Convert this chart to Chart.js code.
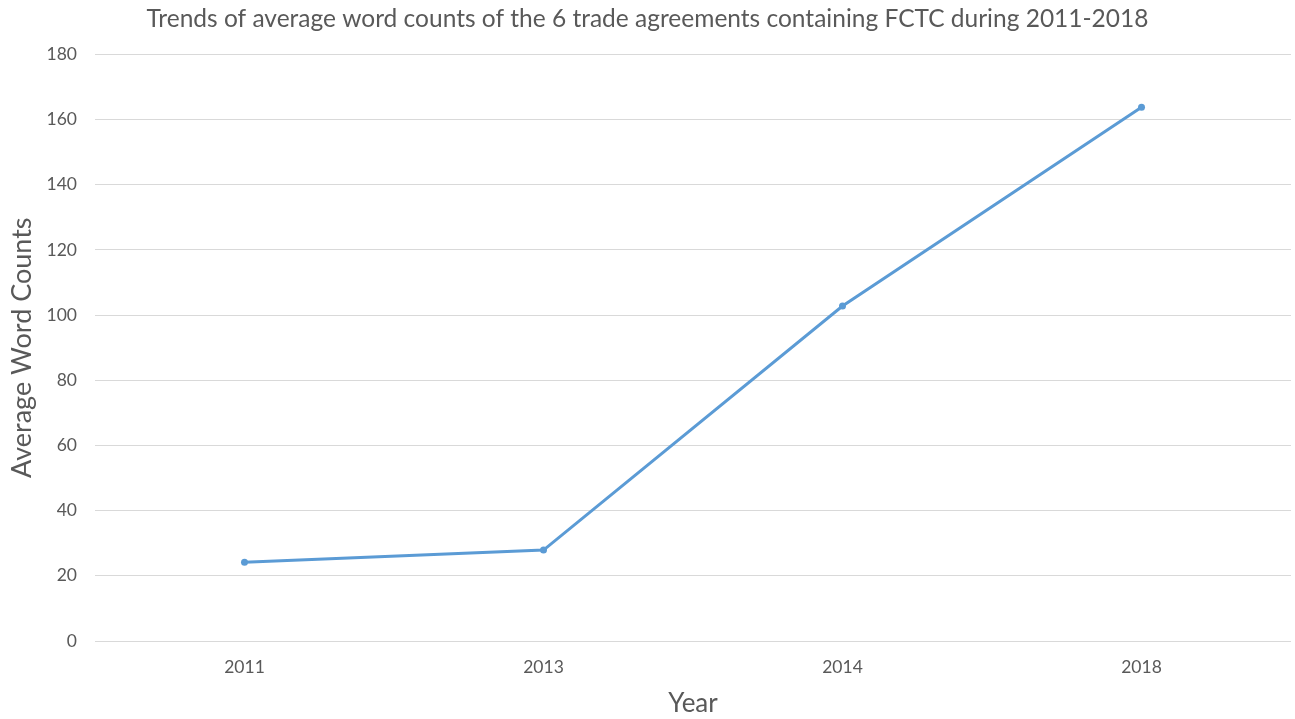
<!DOCTYPE html>
<html>
<head>
<meta charset="utf-8">
<script src="https://cdn.jsdelivr.net/npm/chart.js@4"></script>
<style>
  html, body { margin: 0; padding: 0; background: #fff; }
  #wrap { width: 1295px; height: 719px; }
</style>
</head>
<body>
<div id="wrap"><canvas id="chart" width="1295" height="719"></canvas></div>
<script>
// data
const years = ['2011', '2013', '2014', '2018'];
const avgWordCounts = [24.2, 27.9, 102.8, 163.8];
const titleText = 'Trends of average word counts of the 6 trade agreements containing FCTC during 2011-2018';

const textColor = '#595959';
const lineColor = '#5B9BD5';
const gridColor = '#D9D9D9';
const fontFamily = 'Lato, "Open Sans", sans-serif';

new Chart(document.getElementById('chart'), {
    type: 'line',
    data: {
        labels: years,
        datasets: [{
            label: 'Average Word Counts',
            data: avgWordCounts,
            borderColor: lineColor,
            backgroundColor: lineColor,
            borderWidth: 3,
            pointRadius: 3.5,
            pointBackgroundColor: lineColor,
            pointBorderWidth: 0,
            tension: 0,
            fill: false
        }]
    },
    options: {
        responsive: false,
        animation: false,
        layout: { padding: 0 },
        plugins: {
            legend: { display: false },
            tooltip: { enabled: false },
            title: {
                display: true,
                text: titleText,
                color: textColor,
                font: { family: fontFamily, size: 24.5, weight: 'normal' },
                padding: { top: 4, bottom: 21 }
            }
        },
        scales: {
            x: {
                offset: true,
                grid: { display: false },
                border: { display: false },
                ticks: {
                    color: textColor,
                    font: { family: fontFamily, size: 17.5 },
                    padding: 8
                },
                title: {
                    display: true,
                    text: 'Year',
                    color: textColor,
                    font: { family: fontFamily, size: 26 },
                    padding: { top: 0, bottom: 0 }
                },
                afterFit: (scale) => { scale.height = 78; }
            },
            y: {
                min: 0,
                max: 180,
                ticks: {
                    stepSize: 20,
                    color: textColor,
                    font: { family: fontFamily, size: 17.5 },
                    padding: 18
                },
                grid: { color: gridColor, lineWidth: 1, drawTicks: false },
                border: { display: false },
                title: {
                    display: true,
                    text: 'Average Word Counts',
                    color: textColor,
                    font: { family: fontFamily, size: 27 },
                    padding: { top: 6, bottom: 4 }
                },
                afterFit: (scale) => { scale.width = 95; }
            }
        }
    }
});
</script>
</body>
</html>
